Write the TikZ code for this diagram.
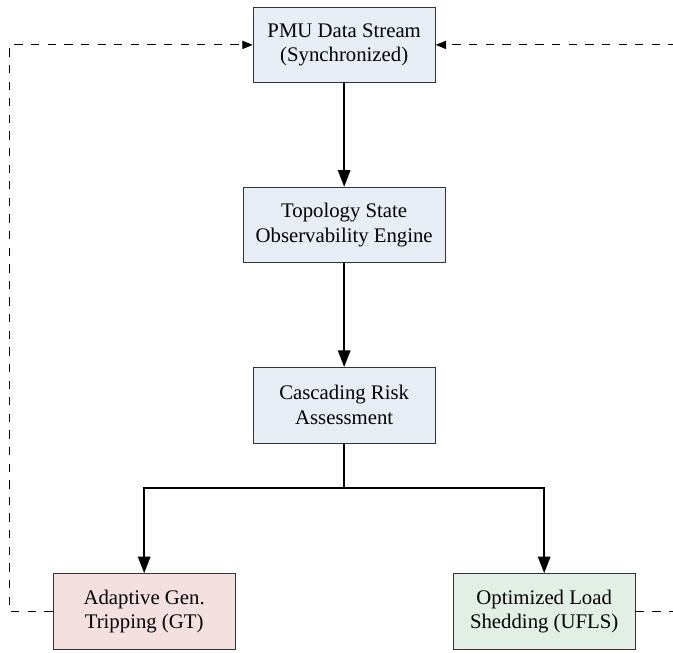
\documentclass[tikz,border=0pt]{standalone}
\usepackage{fontspec}
\setmainfont{Liberation Serif}
\usetikzlibrary{arrows.meta,positioning}
\definecolor{boxblue}{HTML}{E8EEF6}
\definecolor{boxred}{HTML}{F5E0E0}
\definecolor{boxgreen}{HTML}{E2EFE4}
\definecolor{edge}{HTML}{333333}

\begin{document}
\begin{tikzpicture}[
  stage/.style={draw=edge,line width=0.5pt,fill=boxblue,align=center,
    minimum width=3.08cm,minimum height=1.28cm,inner sep=6pt,font=\normalsize},
  flow/.style={line width=0.75pt,-{Triangle[length=8pt,width=6pt]}},
  loop/.style={line width=0.45pt,dash pattern=on 4pt off 4pt,-{Triangle[length=5pt,width=4pt]}}
]
  \clip (0,0) rectangle (11.39,-11.04);
  \node[stage] (pmu) at (5.825,-0.76) {PMU Data Stream\\(Synchronized)};
  \node[stage] (topo) at (5.825,-3.81) {Topology State\\Observability Engine};
  \node[stage] (risk) at (5.825,-6.86) {Cascading Risk\\Assessment};
  \node[stage,fill=boxred] (gt) at (2.44,-10.35) {Adaptive Gen.\\Tripping (GT)};
  \node[stage,fill=boxgreen] (ufls) at (9.21,-10.35) {Optimized Load\\Shedding (UFLS)};
  % main chain
  \draw[flow] (pmu) -- (topo);
  \draw[flow] (topo) -- (risk);
  \coordinate (split) at (5.825,-8.26);
  \draw[line width=0.75pt] (risk) -- (split);
  \draw[flow] (split) -| (gt);
  \draw[flow] (split) -| (ufls);
  % feedback loops
  \draw[loop] (gt.west) -- ++(-0.73,0) |- (pmu.west);
  \draw[loop] (ufls.east) -- ++(2.3,0) |- (pmu.east);
\end{tikzpicture}
\end{document}
